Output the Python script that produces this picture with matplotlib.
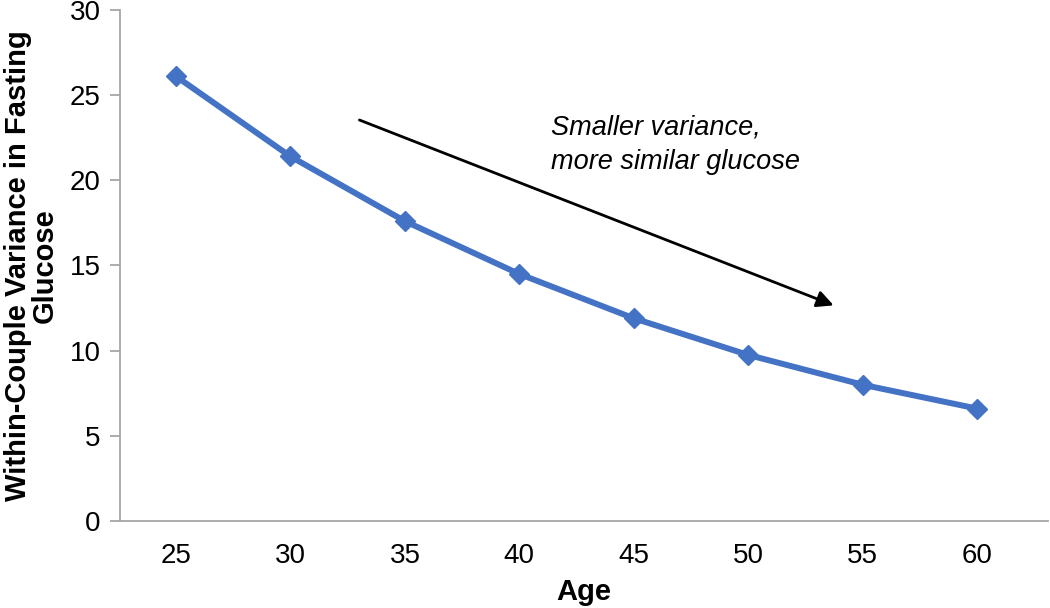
# Within-couple variance in fasting glucose by age

import matplotlib
matplotlib.use("Agg")
import matplotlib.pyplot as plt

plt.rcParams['font.family'] = ['Liberation Sans', 'DejaVu Sans']

ages = ['25', '30', '35', '40', '45', '50', '55', '60']
variance = [26.1, 21.4, 17.6, 14.5, 11.9, 9.75, 8.0, 6.6]

fig = plt.figure(figsize=(10.5, 6.08), dpi=100)
ax = fig.add_axes([0.1143, 0.1431, 0.8837, 0.8405])

x = list(range(len(ages)))
ax.plot(x, variance, color="#4472C4", linewidth=4.3,
        marker="D", markersize=10, markerfacecolor="#4472C4",
        markeredgecolor="#4472C4")

ax.set_xlim(-0.49, 7.62)
ax.set_ylim(0, 30)
ax.set_xticks(x)
ax.set_xticklabels(ages)
ax.set_yticks([0, 5, 10, 15, 20, 25, 30])

for side in ['top', 'right']:
    ax.spines[side].set_visible(False)
for side in ['left', 'bottom']:
    ax.spines[side].set_color("#A6A6A6")
    ax.spines[side].set_linewidth(1.3)

ax.tick_params(axis='y', length=7, color="#A6A6A6", width=1.3,
               labelsize=20, pad=7)
ax.tick_params(axis='x', length=0, labelsize=20, pad=16)

ax.set_xlabel("Age", fontsize=21, fontweight='bold', labelpad=6)
ax.set_ylabel("Within-Couple Variance in Fasting\nGlucose", fontsize=21,
              fontweight='bold', linespacing=0.95, labelpad=8)

# arrow and note
ax.annotate("", xy=(5.77, 12.6), xytext=(1.58, 23.6),
            arrowprops=dict(arrowstyle="-|>", color="black", lw=2,
                            mutation_scale=25))
ax.text(3.28, 22.1, "Smaller variance,\nmore similar glucose", fontsize=19.5,
        style='italic', va='center', ha='left', linespacing=1.45)

fig.savefig("out.png", dpi=100)
